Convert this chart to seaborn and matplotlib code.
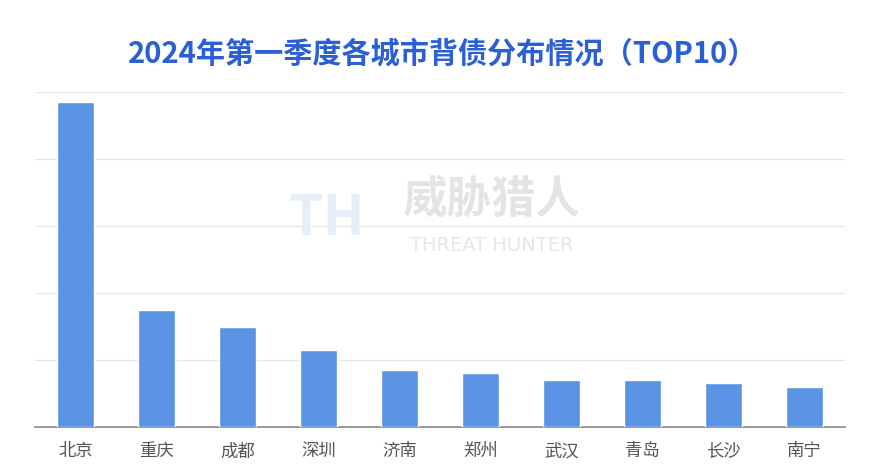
import pandas as pd
import matplotlib.pyplot as plt
import seaborn as sns

cities = ["北京", "重庆", "成都", "深圳", "济南", "郑州", "武汉", "青岛", "长沙", "南宁"]
values = [97.0, 34.9, 29.9, 23.0, 17.0, 16.1, 14.0, 14.0, 13.0, 11.9]
grid_ticks = [0, 20, 40, 60, 80, 100]

sns.set_theme(style="white")
plt.rcParams["font.family"] = ["Noto Sans CJK SC", "DejaVu Sans"]

df = pd.DataFrame({"city": cities, "value": values})

fig = plt.figure(figsize=(8.82, 4.75), dpi=100)
ax = fig.add_axes([0.040, 0.101, 0.918, 0.705])

# watermark
fig.text(0.557, 0.58, "威胁猎人", fontsize=32, fontweight="bold",
         color="#e4e4e4", ha="center", va="center", zorder=0)
fig.text(0.557, 0.483, "THREAT HUNTER", fontsize=14, color="#e6e6e6",
         family="DejaVu Sans", ha="center", va="center", zorder=0)
fig.text(0.37, 0.54, "TH", fontsize=40, fontweight="bold", color="#e6eefa",
         ha="center", va="center", zorder=0)

sns.barplot(data=df, x="city", y="value", color="#5b94e5", saturation=1,
            width=0.46, ax=ax, zorder=3)

ax.set_ylim(0, 100)
ax.set_yticks(grid_ticks)
ax.set_yticklabels([])
ax.yaxis.grid(True, color="#e8e8e8", linewidth=1)
ax.set_axisbelow(True)
ax.set_xlabel("")
ax.set_ylabel("")
ax.tick_params(axis="x", length=0, labelsize=12.5, labelcolor="#555555", pad=11)
ax.tick_params(axis="y", length=0)
for side in ["top", "left", "right"]:
    ax.spines[side].set_visible(False)
ax.spines["bottom"].set_color("#888888")
ax.spines["bottom"].set_linewidth(1.2)
ax.patch.set_alpha(0)

fig.text(0.502, 0.887, "2024年第一季度各城市背债分布情况（TOP10）", fontsize=21,
         fontweight="bold", color="#2b5fd6", ha="center", va="center")

plt.savefig("out.png", dpi=100)
